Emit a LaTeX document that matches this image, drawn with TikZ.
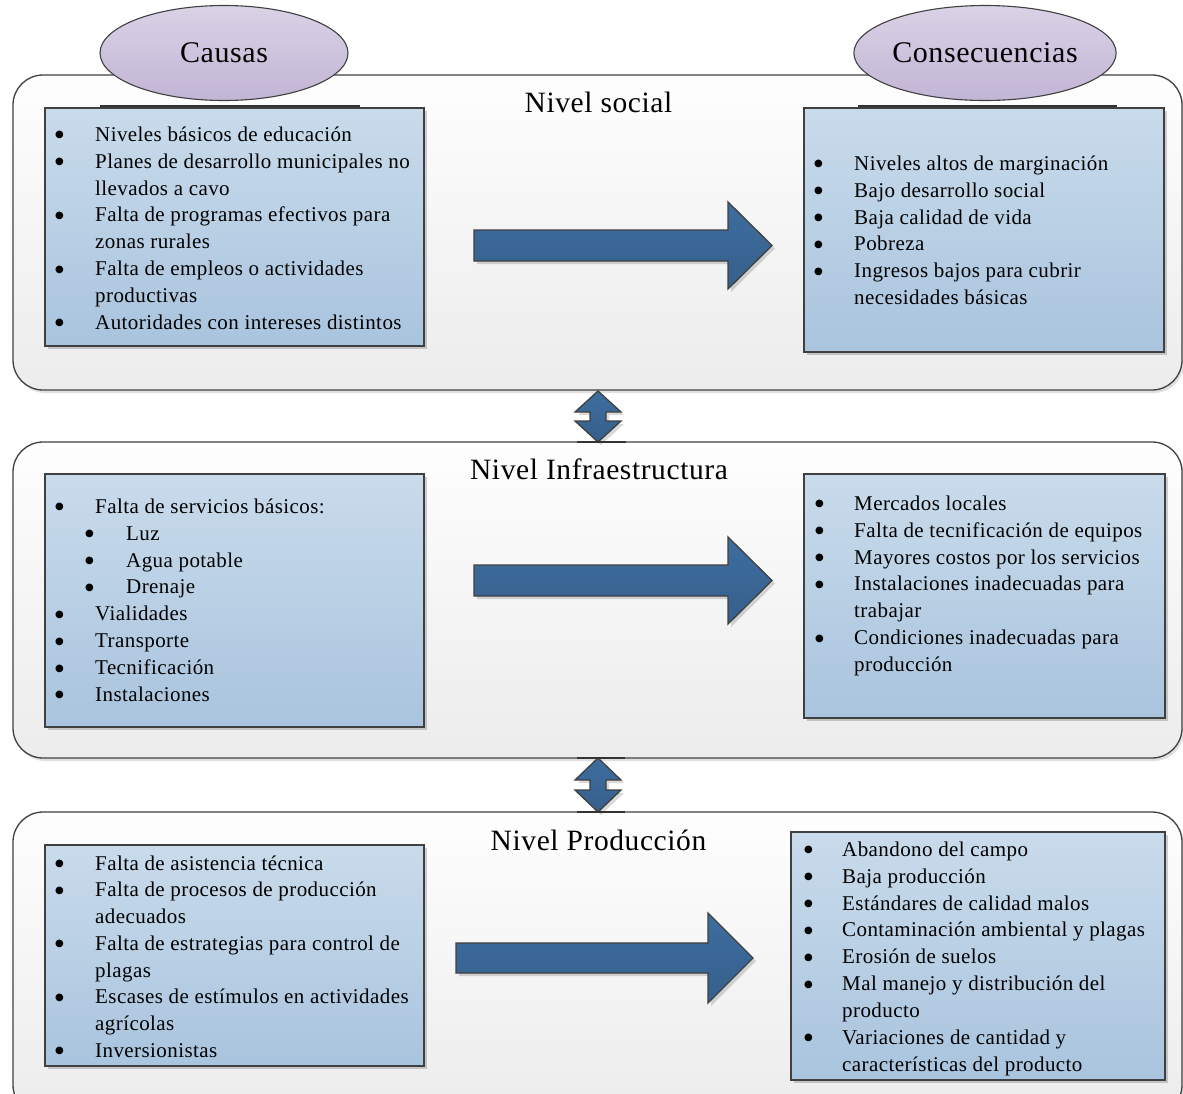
\documentclass[tikz,border=0pt]{standalone}
\usepackage{fontspec}
\setmainfont{Liberation Serif}[LetterSpace=2]
\newfontfamily\bulfont{DejaVu Sans}
\usetikzlibrary{shapes.geometric,shadows}
\definecolor{boxtop}{HTML}{C9DBEB}
\definecolor{boxbot}{HTML}{A9C4DE}
\definecolor{arrtop}{HTML}{3D6E9F}
\definecolor{arrbot}{HTML}{365F8C}
\definecolor{elltop}{HTML}{DAD2E6}
\definecolor{ellbot}{HTML}{C2B5D5}
\definecolor{edge}{HTML}{404040}
\definecolor{pantop}{HTML}{FEFEFE}
\definecolor{panbot}{HTML}{ECECEC}
\newlength\bulw
\setlength\bulw{40pt}
\newcommand\bul{\raisebox{3.6pt}{\bulfont\fontsize{10}{10}\selectfont ●}}
\newcommand\bi[1]{\makebox[\bulw][l]{\bul}#1}
\newcommand\ci[1]{\hspace*{\bulw}#1}
\newcommand\si[1]{\hspace*{30pt}\makebox[41pt][l]{\bul}#1}
\tikzset{
  panel/.style={draw=edge, line width=1.3pt, rounded corners=30pt, top color=pantop, bottom color=panbot,
    drop shadow={shadow xshift=2pt, shadow yshift=-3pt, fill=black, opacity=0.12}},
  bbox/.style={draw=edge, line width=1.3pt, top color=boxtop, bottom color=boxbot, inner sep=0pt,
    drop shadow={shadow xshift=3pt, shadow yshift=-3pt, fill=black, opacity=0.18}},
  ell/.style={ellipse, draw=edge, line width=1.1pt, top color=elltop, bottom color=ellbot, inner sep=0pt,
    font=\fontsize{30}{34}\selectfont},
  barrow/.style={draw=edge, line width=1.3pt, line join=miter, top color=arrtop, bottom color=arrbot,
    drop shadow={shadow xshift=3pt, shadow yshift=-3pt, fill=black, opacity=0.15}},
  dline/.style={draw=black!80, line width=2.8pt},
  lst/.style={inner sep=0pt, anchor=north west, align=left, font=\fontsize{21}{26.9}\selectfont},
  ttl/.style={inner sep=0pt, anchor=base, font=\fontsize{29.5}{34}\selectfont},
}
\begin{document}
\begin{tikzpicture}[x=1pt,y=-1pt]
\clip (0,0) rectangle (1183,1093);
\fill[white] (0,0) rectangle (1183,1093);

% panels
\path[panel] (13,75) rectangle (1182,390);
\path[panel] (13,442) rectangle (1182,758);
\path[panel] (13,812) rectangle (1182,1115);

% ellipses
\node[ell, minimum width=248pt, minimum height=95pt] (causas) at (224,53) {\raisebox{-2pt}{Causas}};
\node[ell, minimum width=256pt, minimum height=95pt] (consec) at (985,53) {\raisebox{-2pt}{Consecuencias}};
\draw[dline] (100,106.5) -- (360,106.5);
\draw[dline] (858,106.5) -- (1117,106.5);

% blue boxes
\node[bbox, minimum width=379pt, minimum height=238pt] (b1l) at (234.5,227) {};
\node[bbox, minimum width=360pt, minimum height=244pt] (b1r) at (984,230) {};
\node[bbox, minimum width=379pt, minimum height=253pt] (b2l) at (234.5,600.5) {};
\node[bbox, minimum width=361pt, minimum height=244pt] (b2r) at (984.5,596) {};
\node[bbox, minimum width=379pt, minimum height=221pt] (b3l) at (234.5,955.5) {};
\node[bbox, minimum width=374pt, minimum height=248pt] (b3r) at (978,956) {};

% big arrows
\path[barrow] (474,230) -- (728,230) -- (728,202) -- (772,245.5) -- (728,289) -- (728,261) -- (474,261) -- cycle;
\path[barrow] (474,565) -- (728,565) -- (728,537) -- (772,580.5) -- (728,624) -- (728,596) -- (474,596) -- cycle;
\path[barrow] (456,943) -- (708,943) -- (708,913) -- (753,958) -- (708,1003) -- (708,973) -- (456,973) -- cycle;

% double arrows
\path[barrow] (598,391) -- (621,412) -- (606,412) -- (606,421) -- (621,421) -- (598,442)
  -- (575,421) -- (590,421) -- (590,412) -- (575,412) -- cycle;
\draw[dline] (577,442) -- (626,442);
\path[barrow] (598,758) -- (621,780) -- (606,780) -- (606,790) -- (621,790) -- (598,812)
  -- (575,790) -- (590,790) -- (590,780) -- (575,780) -- cycle;
\draw[dline] (577,758) -- (625,758);
\draw[dline] (577,812) -- (625,812);

% titles
\node[ttl] (t1) at (598.5,112) {Nivel social};
\node[ttl] (t2) at (599,479) {Nivel Infraestructura};
\node[ttl] (t3) at (598.5,850) {Nivel Producción};

% lists
\node[lst] (l1l) at (55,122.2) {\begin{tabular}{@{}l@{}}
\bi{Niveles básicos de educación}\\
\bi{Planes de desarrollo municipales no}\\
\ci{llevados a cavo}\\
\bi{Falta de programas efectivos para}\\
\ci{zonas rurales}\\
\bi{Falta de empleos o actividades}\\
\ci{productivas}\\
\bi{Autoridades con intereses distintos}
\end{tabular}};

\node[lst] (l1r) at (814,151.2) {\begin{tabular}{@{}l@{}}
\bi{Niveles altos de marginación}\\
\bi{Bajo desarrollo social}\\
\bi{Baja calidad de vida}\\
\bi{Pobreza}\\
\bi{Ingresos bajos para cubrir}\\
\ci{necesidades básicas}
\end{tabular}};

\node[lst] (l2l) at (55,494.2) {\begin{tabular}{@{}l@{}}
\bi{Falta de servicios básicos:}\\
\si{Luz}\\
\si{Agua potable}\\
\si{Drenaje}\\
\bi{Vialidades}\\
\bi{Transporte}\\
\bi{Tecnificación}\\
\bi{Instalaciones}
\end{tabular}};

\node[lst] (l2r) at (815,491.2) {\setlength\bulw{39pt}\begin{tabular}{@{}l@{}}
\bi{Mercados locales}\\
\bi{Falta de tecnificación de equipos}\\
\bi{Mayores costos por los servicios}\\
\bi{Instalaciones inadecuadas para}\\
\ci{trabajar}\\
\bi{Condiciones inadecuadas para}\\
\ci{producción}
\end{tabular}};

\node[lst, font=\fontsize{21}{26.7}\selectfont] (l3l) at (55,851.3) {\begin{tabular}{@{}l@{}}
\bi{Falta de asistencia técnica}\\
\bi{Falta de procesos de producción}\\
\ci{adecuados}\\
\bi{Falta de estrategias para control de}\\
\ci{plagas}\\
\bi{Escases de estímulos en actividades}\\
\ci{agrícolas}\\
\bi{Inversionistas}
\end{tabular}};

\node[lst] (l3r) at (804,837.2) {\setlength\bulw{38pt}\begin{tabular}{@{}l@{}}
\bi{Abandono del campo}\\
\bi{Baja producción}\\
\bi{Estándares de calidad malos}\\
\bi{Contaminación ambiental y plagas}\\
\bi{Erosión de suelos}\\
\bi{Mal manejo y distribución del}\\
\ci{producto}\\
\bi{Variaciones de cantidad y}\\
\ci{características del producto}
\end{tabular}};
\end{tikzpicture}
\end{document}
